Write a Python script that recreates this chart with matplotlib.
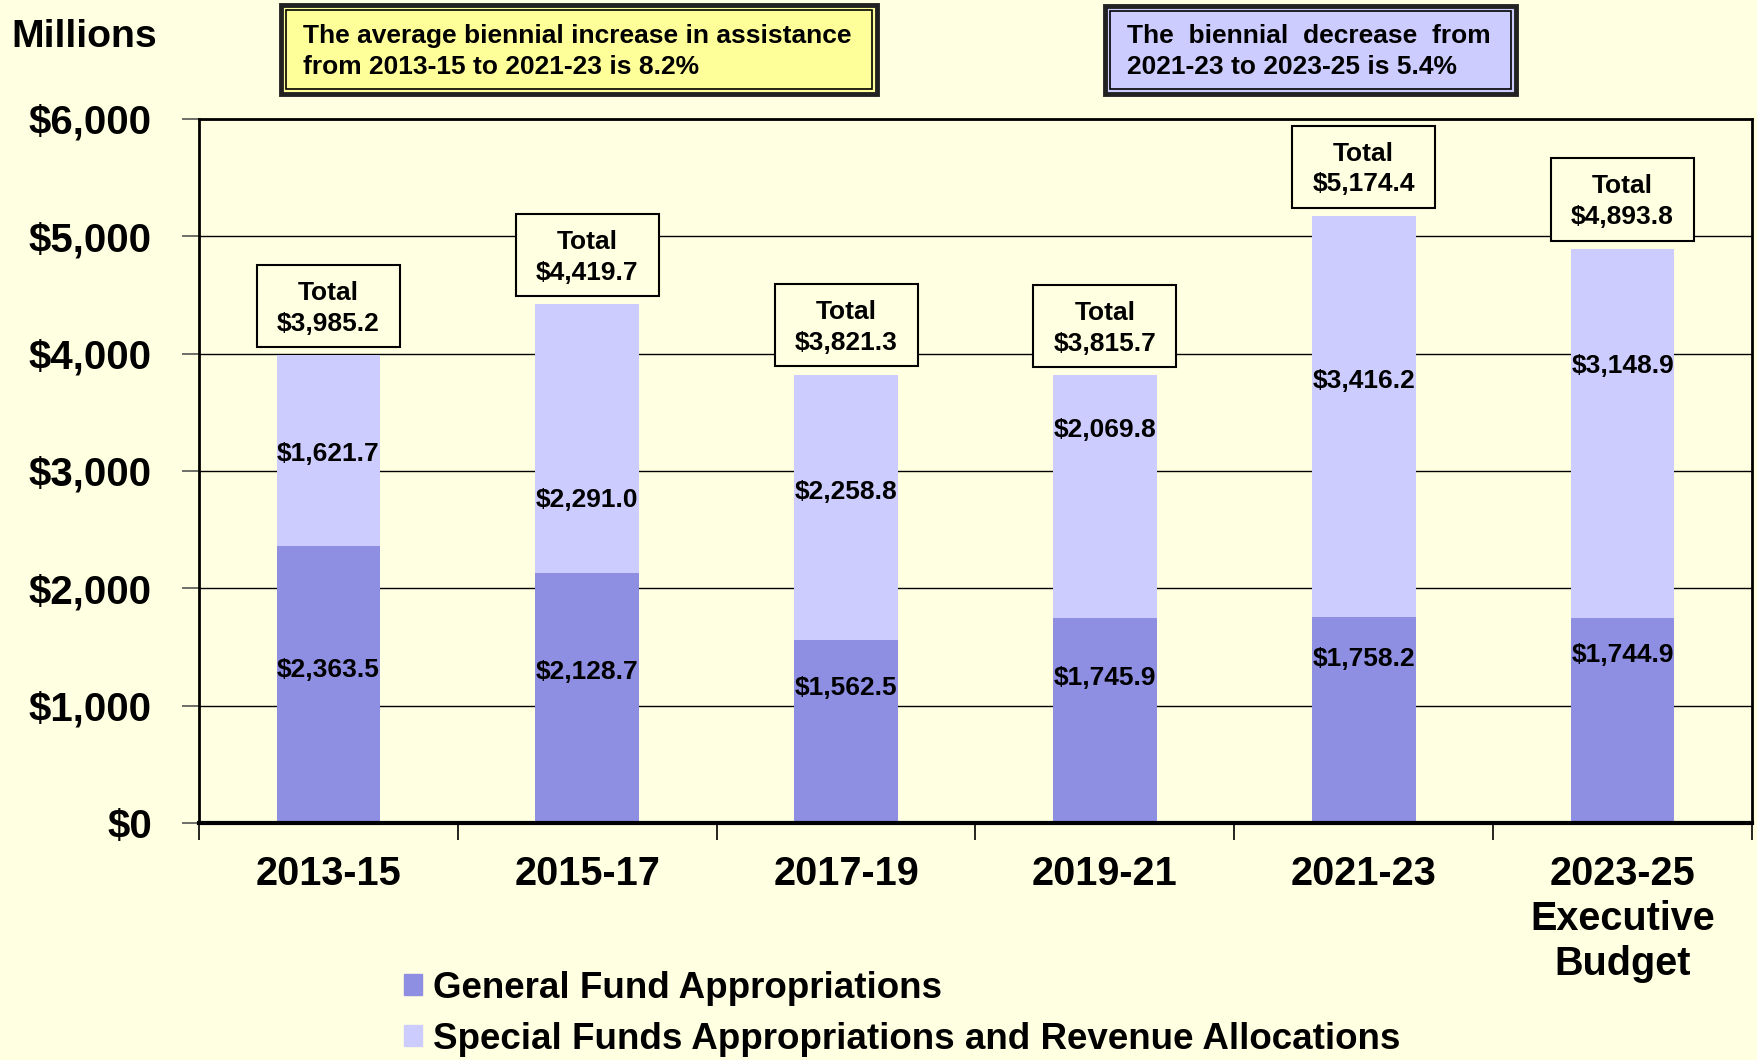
import numpy as np
import matplotlib.pyplot as plt
import matplotlib.patches as mpatches
from matplotlib.ticker import FuncFormatter

plt.rcParams['font.family'] = ['Liberation Sans', 'DejaVu Sans']
plt.rcParams['font.weight'] = 'bold'

# ── Data ($ millions) ─────────────────────────────────────────────────────────
periods = ["2013-15", "2015-17", "2017-19", "2019-21", "2021-23",
           "2023-25\nExecutive\nBudget"]
general_fund = [2363.5, 2128.7, 1562.5, 1745.9, 1758.2, 1744.9]
special_funds = [1621.7, 2291.0, 2258.8, 2069.8, 3416.2, 3148.9]
totals = [3985.2, 4419.7, 3821.3, 3815.7, 5174.4, 4893.8]
series_names = ["General Fund Appropriations",
                "Special Funds Appropriations and Revenue Allocations"]
note_increase = "The average biennial increase in assistance\nfrom 2013-15 to 2021-23 is 8.2%"
note_decrease = "The  biennial  decrease  from\n2021-23 to 2023-25 is 5.4%"

# label heights inside the segments (as placed on the original slide)
gf_label_y = [1304, 1291, 1151, 1236, 1398, 1432]
sf_label_y = [3146, 2754, 2822, 3346, 3768, 3891]

# ── Styling ──────────────────────────────────────────────────────────────────
BG = "#FFFFE1"
GF_COLOR = "#8E8EE3"
SF_COLOR = "#CCCCFF"
W, H = 1758, 1060


def fx(px):
    return px / W


def fy(py):
    return 1 - py / H


def note_box(x0, y0, x1, y1, color):
    """Double-bordered call-out box in figure pixel coordinates."""
    outer = mpatches.Rectangle((fx(x0), fy(y1)), (x1 - x0) / W, (y1 - y0) / H,
                               transform=fig.transFigure, fc=color,
                               ec="#222222", lw=3.5, zorder=1)
    inset = 5
    inner = mpatches.Rectangle((fx(x0 + inset), fy(y1 - inset)),
                               (x1 - x0 - 2 * inset) / W, (y1 - y0 - 2 * inset) / H,
                               transform=fig.transFigure, fill=False,
                               ec="black", lw=1.2, zorder=2)
    fig.add_artist(outer)
    fig.add_artist(inner)


fig = plt.figure(figsize=(W / 100, H / 100), dpi=100)
fig.patch.set_facecolor(BG)

ax = fig.add_axes([fx(199), fy(823), (1752 - 199) / W, (823 - 119) / H])
ax.set_facecolor(BG)

x = np.arange(len(periods))
ax.bar(x, general_fund, width=0.4, color=GF_COLOR, zorder=2, label=series_names[0])
ax.bar(x, special_funds, bottom=general_fund, width=0.4, color=SF_COLOR,
       zorder=2, label=series_names[1])

ax.set_xlim(-0.5, len(periods) - 0.5)
ax.set_ylim(0, 6000)
ax.set_yticks(range(0, 6001, 1000))
ax.yaxis.set_major_formatter(FuncFormatter(lambda v, p: f"${v:,.0f}"))
ax.grid(axis="y", color="black", lw=1.0, zorder=0)
ax.set_axisbelow(True)
ax.tick_params(axis="y", length=12, width=1.2, pad=22, labelsize=29,
               color="#555555")

ax.set_xticks(x)
ax.set_xticklabels(periods)
ax.tick_params(axis="x", which="major", length=0, pad=23, labelsize=28.5)
ax.set_xticks(np.arange(-0.5, len(periods), 1), minor=True)
ax.tick_params(axis="x", which="minor", length=12, width=1.2, color="black")
for lbl in ax.get_xticklabels():
    lbl.set_linespacing(1.23)

for side, lw in {"left": 2, "top": 2, "right": 2, "bottom": 3}.items():
    ax.spines[side].set_linewidth(lw)
    ax.spines[side].set_color("black")

# segment labels
for i in x:
    ax.text(i, gf_label_y[i], f"${general_fund[i]:,.1f}", ha="center",
            va="center", fontsize=19, zorder=4)
    ax.text(i, sf_label_y[i], f"${special_funds[i]:,.1f}", ha="center",
            va="center", fontsize=19, zorder=4)

# total boxes above each bar
box_w, box_h, gap = 0.5525, 700, 70
for i, t in enumerate(totals):
    ax.add_patch(mpatches.Rectangle((i - box_w / 2, t + gap), box_w, box_h,
                                    fc=BG, ec="black", lw=1.5, zorder=3))
    ax.text(i, t + gap + box_h / 2 - 20, f"Total\n${t:,.1f}", ha="center",
            va="center", fontsize=19, linespacing=1.36, zorder=4)

# header texts
fig.text(fx(11), fy(37), "Millions", fontsize=28.3, ha="left", va="center")

note_box(281, 5, 877, 94, "#FFFF99")
fig.text(fx(303), fy(51.5), note_increase, fontsize=19, ha="left",
         va="center", linespacing=1.35, zorder=3)

note_box(1105, 6, 1516, 94, "#CCCCFF")
fig.text(fx(1127), fy(51.5), note_decrease, fontsize=19, ha="left",
         va="center", linespacing=1.35, zorder=3)

# legend
handles = [mpatches.Patch(color=GF_COLOR), mpatches.Patch(color=SF_COLOR)]
fig.legend(handles, series_names, loc="upper left",
           bbox_to_anchor=(fx(404), fy(971)), frameon=False, fontsize=26.5,
           handlelength=0.5, handleheight=0.5, handletextpad=0.3,
           labelspacing=0.43, borderpad=0, borderaxespad=0)

fig.savefig("out.png", dpi=100, facecolor=fig.get_facecolor())
